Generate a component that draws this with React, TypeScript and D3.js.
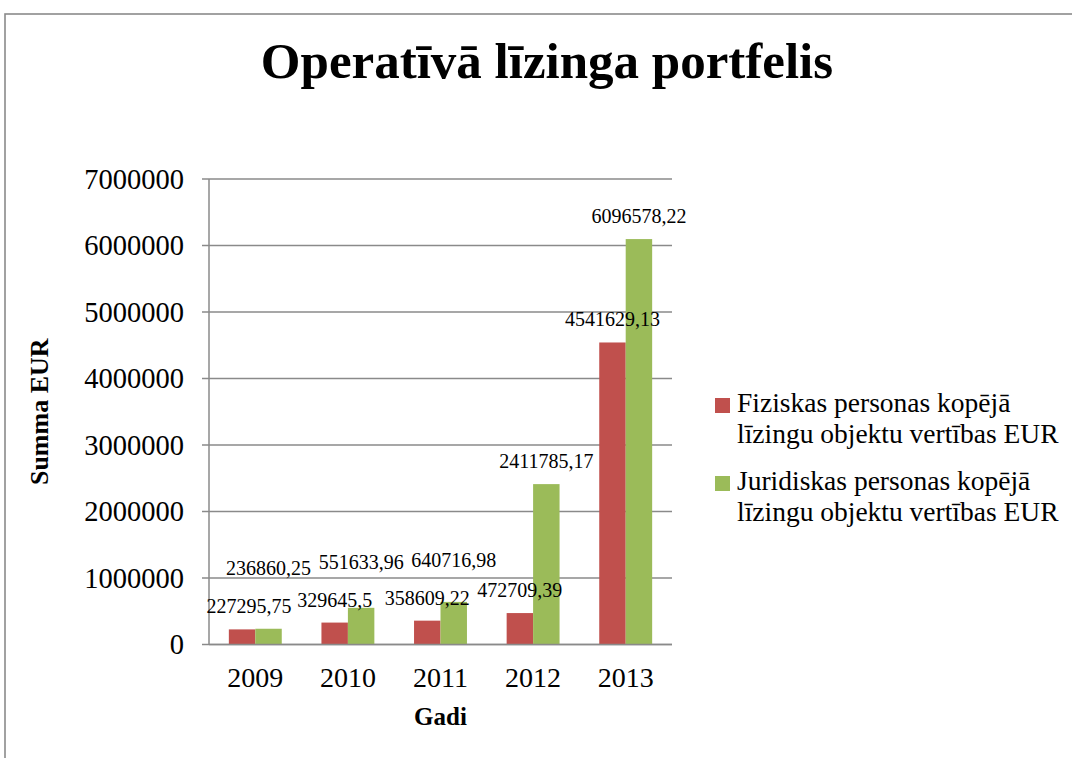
import React, { useEffect, useRef } from 'react';
import * as d3 from 'd3';

const years = ['2009', '2010', '2011', '2012', '2013'];
const fiziskas = [227295.75, 329645.5, 358609.22, 472709.39, 4541629.13];
const juridiskas = [236860.25, 551633.96, 640716.98, 2411785.17, 6096578.22];
const seriesNames = [
  ['Fiziskas personas kopējā', 'līzingu objektu vertības EUR'],
  ['Juridiskas personas kopējā', 'līzingu objektu vertības EUR'],
];
const seriesColors = ['#C0504D', '#9BBB59'];
const yTicks = [0, 1000000, 2000000, 3000000, 4000000, 5000000, 6000000, 7000000];

const fmt = (v: number) => String(v).replace('.', ',');

const App: React.FC = () => {
  const svgRef = useRef<SVGSVGElement>(null);

  useEffect(() => {
    if (!svgRef.current) return;
    const width = 1072;
    const height = 758;
    const font = '"Liberation Serif", "DejaVu Serif", serif';

    const svg = d3.select(svgRef.current);
    svg.selectAll('*').remove();
    svg.attr('width', width).attr('height', height).style('font-family', font);

    // outer frame
    svg.append('rect')
      .attr('x', 5).attr('y', 14)
      .attr('width', width + 20).attr('height', height + 20)
      .attr('fill', '#fff')
      .attr('stroke', '#8a8a8a')
      .attr('stroke-width', 1.6);

    svg.append('text')
      .attr('x', 547).attr('y', 78)
      .attr('text-anchor', 'middle')
      .attr('font-size', 51)
      .attr('font-weight', 'bold')
      .text('Operatīvā līzinga portfelis');

    /* ---- scales ---- */
    const left = 209, right = 672, top = 179, bottom = 644.5;
    const x0 = d3.scaleBand<string>().domain(years).range([left, right]).paddingInner(0).paddingOuter(0);
    const y = d3.scaleLinear().domain([0, 7000000]).range([bottom, top]);
    const bw = x0.bandwidth() / 3.5;
    const groupOffset = (x0.bandwidth() - 2 * bw) / 2;
    const barX = (i: number, s: number) => (x0(years[i]) as number) + groupOffset + s * bw;

    // grid + ticks
    const grid = svg.append('g');
    grid.selectAll('line.grid')
      .data(yTicks)
      .join('line')
      .attr('x1', left - 7).attr('x2', right)
      .attr('y1', d => y(d)).attr('y2', d => y(d))
      .attr('stroke', '#8a8a8a')
      .attr('stroke-width', 1.5);

    grid.selectAll('text')
      .data(yTicks)
      .join('text')
      .attr('x', 184)
      .attr('y', d => y(d))
      .attr('dy', '0.35em')
      .attr('text-anchor', 'end')
      .attr('font-size', 28.5)
      .text(d => String(d));

    /* ---- bars ---- */
    const series = [fiziskas, juridiskas];
    series.forEach((vals, s) => {
      svg.append('g')
        .selectAll('rect')
        .data(vals)
        .join('rect')
        .attr('x', (_, i) => barX(i, s))
        .attr('y', d => y(d))
        .attr('width', bw)
        .attr('height', d => bottom - y(d))
        .attr('fill', seriesColors[s]);
    });

    // y axis line + x axis line
    svg.append('line')
      .attr('x1', left).attr('x2', left)
      .attr('y1', top).attr('y2', bottom)
      .attr('stroke', '#8a8a8a').attr('stroke-width', 1.5);
    svg.append('line')
      .attr('x1', left).attr('x2', right)
      .attr('y1', bottom).attr('y2', bottom)
      .attr('stroke', '#8a8a8a').attr('stroke-width', 1.5);

    /* ---- data labels ---- */
    const labels = svg.append('g').attr('font-size', 20).attr('text-anchor', 'middle');
    years.forEach((_, i) => {
      const redBase = y(fiziskas[i]) - 16;
      let greenBase = y(juridiskas[i]) - 16;
      if (greenBase > redBase - 20) greenBase = redBase - 38;
      const redCx = Math.max(barX(i, 0) + bw / 2, left + 40);
      labels.append('text').attr('x', redCx).attr('y', redBase).text(fmt(fiziskas[i]));
      labels.append('text').attr('x', barX(i, 1) + bw / 2).attr('y', greenBase).text(fmt(juridiskas[i]));
    });

    /* ---- category labels ---- */
    svg.append('g')
      .selectAll('text')
      .data(years)
      .join('text')
      .attr('x', d => (x0(d) as number) + x0.bandwidth() / 2)
      .attr('y', 687)
      .attr('text-anchor', 'middle')
      .attr('font-size', 28)
      .text(d => d);

    // axis titles
    svg.append('text')
      .attr('x', (left + right) / 2).attr('y', 725)
      .attr('text-anchor', 'middle')
      .attr('font-size', 25).attr('font-weight', 'bold')
      .text('Gadi');
    svg.append('text')
      .attr('transform', `translate(48,${(top + bottom) / 2}) rotate(-90)`)
      .attr('text-anchor', 'middle')
      .attr('font-size', 26).attr('font-weight', 'bold')
      .text('Summa EUR');

    /* ---- legend ---- */
    const legend = svg.append('g');
    seriesNames.forEach((lines, s) => {
      const base = 412 + s * 78;
      legend.append('rect')
        .attr('x', 715).attr('y', base - 14)
        .attr('width', 15).attr('height', 15)
        .attr('fill', seriesColors[s]);
      lines.forEach((t, k) => {
        legend.append('text')
          .attr('x', 737).attr('y', base + k * 31)
          .attr('font-size', 27.5)
          .text(t);
      });
    });
  }, []);

  return (
    <svg
      ref={svgRef}
      style={{ position: 'absolute', left: 0, top: 0, background: '#fff' }}
    />
  );
};

export default App;
